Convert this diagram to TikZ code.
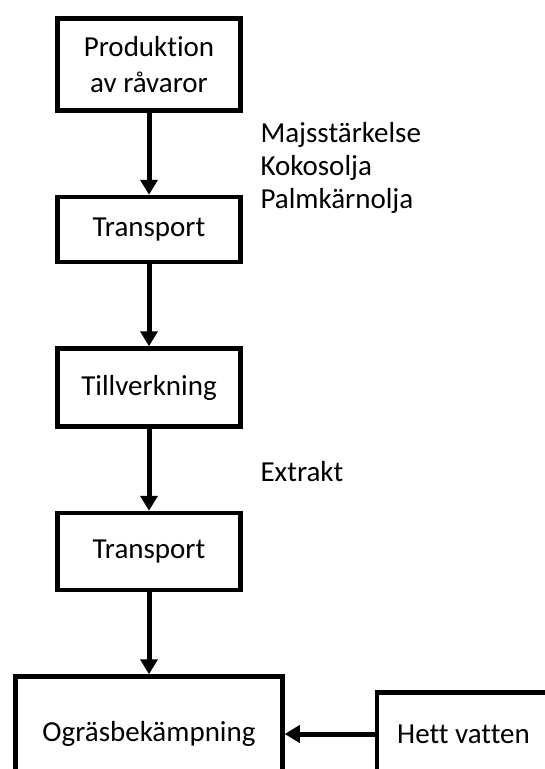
\documentclass[tikz,border=0pt]{standalone}
\usepackage{fontspec}
\setmainfont{Carlito}[Ligatures={NoCommon}]
\usetikzlibrary{positioning,arrows.meta}
\tikzset{node distance=82pt, auto}
\tikzset{
  box/.style={draw, line width=4.5pt, minimum width=183pt, align=center,
    font=\fontsize{29}{36}\selectfont},
  lbl/.style={anchor=west, align=left, font=\fontsize{29}{33}\selectfont},
  arr/.style={line width=5pt, -{Triangle[width=17pt,length=15pt]}}
}

\begin{document}
\begin{tikzpicture}
\useasboundingbox (0,0) rectangle (545pt,-769pt);
\clip (0,0) rectangle (545pt,-769pt);
\node[box, minimum height=92pt] (prod) at (149pt,-64.5pt) {Produktion\\av råvaror};
\node[box, minimum height=65pt, below=of prod] (trans1) {Transport};
\node[box, minimum height=78pt, below=of trans1] (tillv) {Tillverkning};
\node[box, minimum height=77pt, below=of tillv] (trans2) {Transport};
\node[box, minimum height=115pt, minimum width=267pt, below=of trans2] (ogras) {Ogräsbekämpning};
\node[box, minimum height=83pt, minimum width=173pt, right=90pt of ogras] (vatten) {Hett vatten};
% material labels
\node[lbl] (ravaror) at (257pt,-168pt) {Majsstärkelse\\Kokosolja\\Palmkärnolja};
\node[lbl] (extrakt) at (257pt,-472pt) {Extrakt};
\draw[arr] (prod) -- (trans1);
\draw[arr] (trans1) -- (tillv);
\draw[arr] (tillv) -- (trans2);
\draw[arr] (trans2) -- (ogras);
\draw[arr] (vatten) -- (ogras);
\end{tikzpicture}
\end{document}
